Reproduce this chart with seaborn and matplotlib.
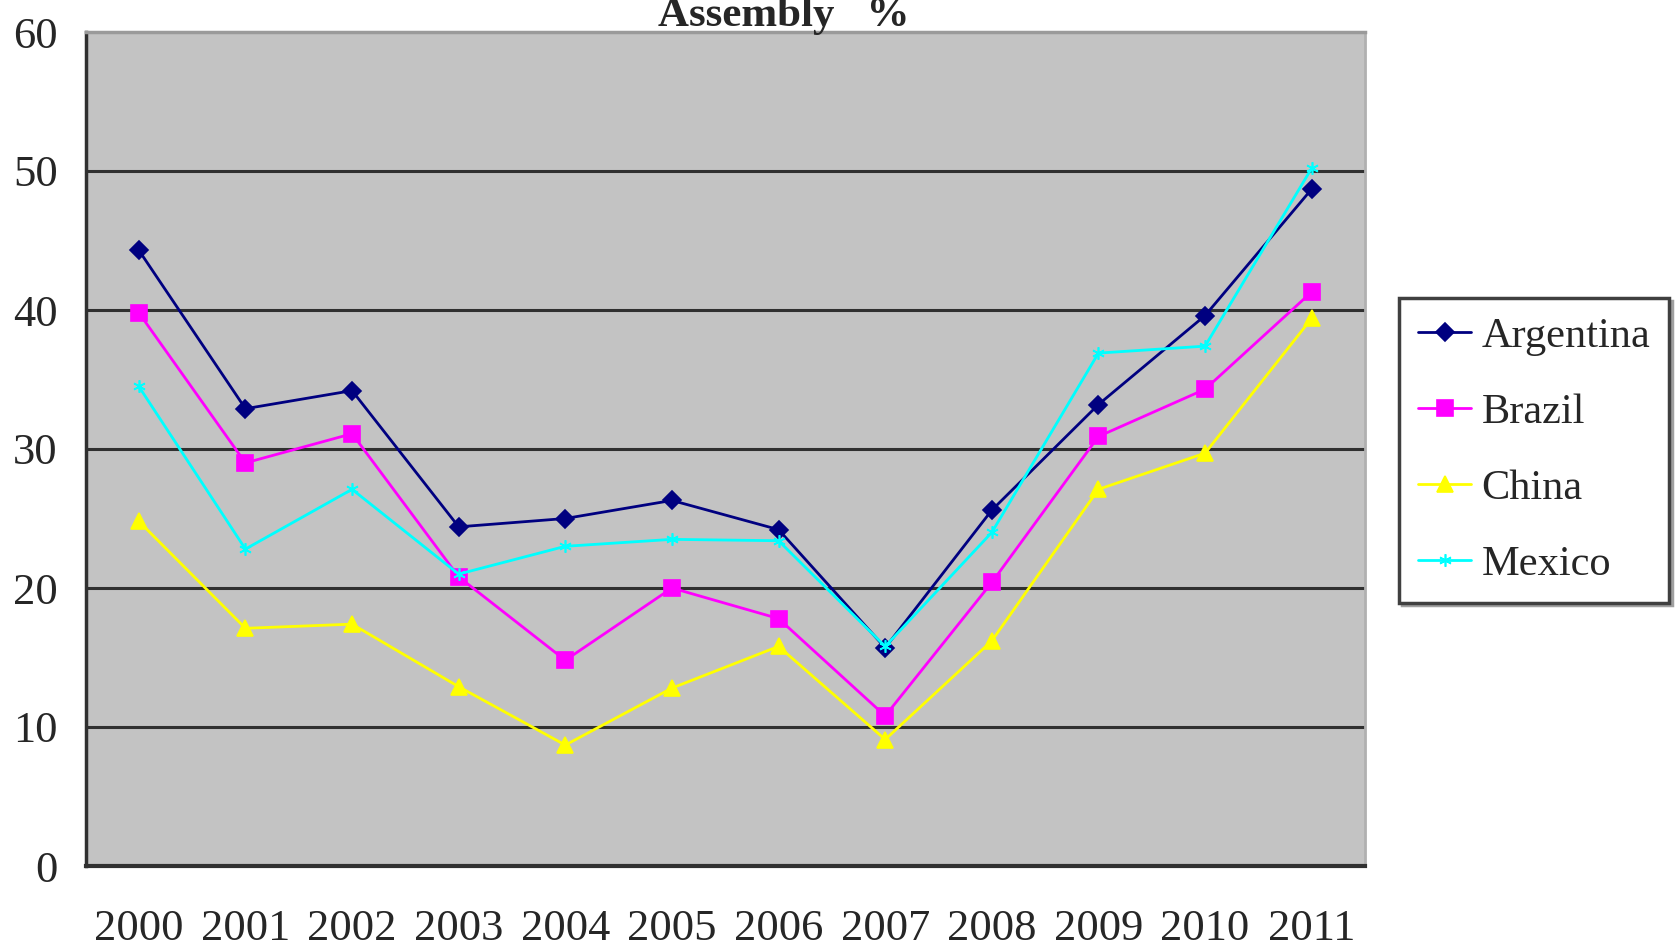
import matplotlib
matplotlib.use("Agg")
import matplotlib.pyplot as plt
import seaborn as sns
import pandas as pd
from matplotlib.ticker import FixedLocator

# Share of assembly activity by country, per year (%)
years = [2000, 2001, 2002, 2003, 2004, 2005, 2006, 2007, 2008, 2009, 2010, 2011]
argentina = [44.3, 32.9, 34.2, 24.4, 25.0, 26.3, 24.2, 15.7, 25.6, 33.2, 39.6, 48.7]
brazil = [39.8, 29.0, 31.1, 20.8, 14.8, 20.0, 17.8, 10.8, 20.4, 30.9, 34.3, 41.3]
china = [24.8, 17.1, 17.4, 12.9, 8.7, 12.8, 15.8, 9.1, 16.2, 27.1, 29.7, 39.4]
mexico = [34.5, 22.8, 27.1, 21.0, 23.0, 23.5, 23.4, 15.8, 24.0, 36.9, 37.4, 50.2]
countries = ["Argentina", "Brazil", "China", "Mexico"]
y_ticks = [0, 10, 20, 30, 40, 50, 60]
title_text = "Assembly   %"

series = {"Argentina": argentina, "Brazil": brazil, "China": china, "Mexico": mexico}
df = pd.concat([pd.DataFrame({"year": years, "value": series[c], "country": c})
                for c in countries], ignore_index=True)

sns.set_style("white")
plt.rcParams["font.family"] = ["Liberation Serif", "DejaVu Serif"]

fig = plt.figure(figsize=(16.75, 9.51), dpi=100)
ax = fig.add_axes([85.5 / 1675, 1 - 866 / 951, (1365 - 85.5) / 1675, (866 - 32) / 951])
ax.set_facecolor("#c3c3c3")

colors = {"Argentina": "#000080", "Brazil": "#ff00ff", "China": "#ffff00", "Mexico": "#00ffff"}
markers = {"Argentina": "D", "Brazil": "s", "China": "^", "Mexico": (6, 2, 0)}
msizes = {"Argentina": 9, "Brazil": 11, "China": 12, "Mexico": 9}

for c in countries:
    sns.lineplot(data=df[df["country"] == c], x="year", y="value", ax=ax,
                 color=colors[c], marker=markers[c], markersize=msizes[c],
                 markeredgecolor=colors[c], markeredgewidth=1.2,
                 linewidth=2, label=c, zorder=3)

# axes limits and grid
ax.set_xlim(1999.5, 2011.5)
ax.set_ylim(0, 60)
ax.set_yticks(y_ticks)
ax.set_yticklabels([str(v) for v in y_ticks], fontsize=32)
ax.set_xticks(years)
ax.set_xticklabels([str(y) for y in years], fontsize=32)
ax.xaxis.set_minor_locator(FixedLocator([y + 0.5 for y in years]))
ax.tick_params(axis="x", which="major", length=0, pad=31)
ax.tick_params(axis="x", which="minor", direction="in", length=12, width=2, color="#303030")
ax.tick_params(axis="y", which="major", length=0, pad=20)
for v in y_ticks[1:-1]:
    ax.axhline(v, color="#303030", linewidth=2.2, zorder=0.5)
ax.set_xlabel("")
ax.set_ylabel("")

for side, col, lw in [("left", "#303030", 2.5), ("bottom", "#303030", 3),
                      ("top", "#9a9a9a", 2.5), ("right", "#b0b0b0", 2)]:
    ax.spines[side].set_visible(True)
    ax.spines[side].set_color(col)
    ax.spines[side].set_linewidth(lw)

fig.text(784 / 1675, 1 - 26 / 951, title_text, ha="center", va="baseline",
         fontsize=31, fontweight="bold")

handles, labels = ax.get_legend_handles_labels()
leg = ax.legend(handles, labels, loc="upper left", bbox_to_anchor=(1399 / 1675, 1 - 298 / 951),
                bbox_transform=fig.transFigure, fontsize=30.5, frameon=True, fancybox=False,
                shadow={"color": "#a0a0a0", "alpha": 1}, framealpha=1, borderpad=0.45,
                labelspacing=0.88, handlelength=1.25, handletextpad=0.25, borderaxespad=0)
leg.get_frame().set_edgecolor("#404040")
leg.get_frame().set_linewidth(2.5)

fig.savefig("out.png", dpi=100)
